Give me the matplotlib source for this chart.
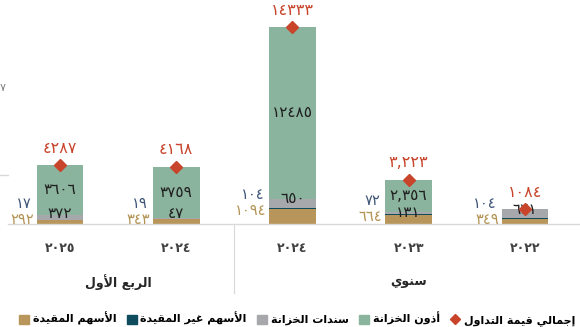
import matplotlib.pyplot as plt
from matplotlib.patches import Patch
from matplotlib.lines import Line2D

# trading value by instrument, ordered 2022 -> Q1 2025 (axis runs right to left)
years = ['٢٠٢٢', '٢٠٢٣', '٢٠٢٤', '٢٠٢٤', '٢٠٢٥']
groups = ['سنوي', 'الربع الأول']
group_sizes = [3, 2]
listed = [349, 664, 1094, 343, 292]
unlisted = [104, 72, 104, 19, 17]
bonds = [631, 131, 650, 47, 372]
bills = [0, 2356, 12485, 3759, 3606]
total = [1084, 3223, 14333, 4168, 4287]
use_commas = [False, True, False, False, False]

series_names = ['الأسهم المقيدة', 'الأسهم غير المقيدة', 'سندات الخزانة', 'أذون الخزانة']
total_name = 'إجمالي قيمة التداول'

C_LISTED = '#B8955A'
C_UNLISTED = '#0E4C5E'
C_BONDS = '#A7A8AB'
C_BILLS = '#8BB49F'
C_TOTAL = '#C8452C'

# matplotlib does no arabic shaping, so pick the presentation forms by hand
FORMS = {'ا': (0xFE8D, 2), 'أ': (0xFE83, 2), 'إ': (0xFE87, 2), 'آ': (0xFE81, 2),
         'ب': (0xFE8F, 4), 'ة': (0xFE93, 2), 'ت': (0xFE95, 4), 'ج': (0xFE9D, 4),
         'خ': (0xFEA5, 4), 'د': (0xFEA9, 2), 'ذ': (0xFEAB, 2), 'ر': (0xFEAD, 2),
         'ز': (0xFEAF, 2), 'س': (0xFEB1, 4), 'ع': (0xFEC9, 4), 'غ': (0xFECD, 4),
         'ق': (0xFED5, 4), 'ل': (0xFEDD, 4), 'م': (0xFEE1, 4), 'ن': (0xFEE5, 4),
         'ه': (0xFEE9, 4), 'و': (0xFEED, 2), 'ي': (0xFEF1, 4)}
LAM_ALEF = {'ا': 0xFEFB, 'أ': 0xFEF7, 'إ': 0xFEF9, 'آ': 0xFEF5}


def shape(text):
    units = []
    i = 0
    while i < len(text):
        c = text[i]
        if c == 'ل' and i + 1 < len(text) and text[i + 1] in LAM_ALEF:
            units.append((LAM_ALEF[text[i + 1]], 2))
            i += 2
        elif c in FORMS:
            units.append(FORMS[c])
            i += 1
        else:
            units.append((c, 0))
            i += 1
    res = []
    for k, (base, n) in enumerate(units):
        if n == 0:
            res.append(base)
            continue
        join_prev = k > 0 and units[k - 1][1] == 4
        join_next = n == 4 and k + 1 < len(units) and units[k + 1][1] > 0
        res.append(chr(base + join_prev + 2 * join_next))
    return ''.join(reversed(res))


AR_DIGITS = str.maketrans('0123456789', '٠١٢٣٤٥٦٧٨٩')


def ar_num(v, commas=False):
    s = f'{v:,}' if commas else str(v)
    return s.translate(AR_DIGITS)


plt.rcParams['font.family'] = ['DejaVu Sans']

W, H = 580, 327
fig = plt.figure(figsize=(W / 100, H / 100), dpi=100)
# axes box in pixels: x 2..583, baseline at y=224, 15000 at y=18
ax = fig.add_axes([2 / W, (H - 224) / H, 581 / W, 206 / H])

x = list(range(len(years)))
bw = 0.4
b1 = listed
b2 = [a + b for a, b in zip(b1, unlisted)]
b3 = [a + b for a, b in zip(b2, bonds)]
ax.bar(x, listed, bw, color=C_LISTED)
ax.bar(x, unlisted, bw, bottom=b1, color=C_UNLISTED)
ax.bar(x, bonds, bw, bottom=b2, color=C_BONDS)
ax.bar(x, bills, bw, bottom=b3, color=C_BILLS)
ax.plot(x, total, 'D', color=C_TOTAL, ms=6, zorder=5)

ax.set_xlim(4.5, -0.5)
ax.set_ylim(0, 15000)
ax.axis('off')
ax.axhline(0, xmin=6 / 581, xmax=1, color='#d9d9d9', lw=1, clip_on=False)

# stray pieces of the neighbouring panel at the left edge
fig.add_artist(Line2D([0, 8 / W], [(H - 175) / H] * 2, color='#d9d9d9', lw=1))
fig.text(0, (H - 88) / H, '٧', ha='left', va='center', fontsize=8,
         color='#7f7f7f')

px = 0.72  # one pixel in points
for i in x:
    c = use_commas[i]
    # listed / unlisted sit to the left of the bar
    ly = max(listed[i] - 100, 330)
    ax.annotate(ar_num(listed[i], c), (i + bw / 2, ly), xytext=(-3 * px, 0),
                textcoords='offset points', ha='right', va='center',
                fontsize=10.5, color='#B39455')
    ax.annotate(ar_num(unlisted[i], c), (i + bw / 2, ly + 1150), xytext=(-5 * px, 0),
                textcoords='offset points', ha='right', va='center',
                fontsize=10.5, color='#3F5679')
    ax.text(i, max(b3[i], 750), ar_num(bonds[i], c), ha='center', va='center',
            fontsize=11, color='#1f1f1f')
    if bills[i]:
        ax.text(i, b3[i] + bills[i] / 2, ar_num(bills[i], c), ha='center',
                va='center', fontsize=11, color='#1f1f1f')
    ax.annotate(ar_num(total[i], c), (i, total[i]), xytext=(0, 17 * px),
                textcoords='offset points', ha='center', va='center',
                fontsize=11.5, color=C_TOTAL)

# category and group labels under the baseline
xt = ax.get_xaxis_transform()
for i, y in enumerate(years):
    ax.text(i, -24 / 206, y, transform=xt, ha='center', va='center',
            fontsize=9, fontweight='bold', color='#404040')
start = 0
for g, n in zip(groups, group_sizes):
    ax.text(start + (n - 1) / 2, -58 / 206, shape(g), transform=xt, ha='center',
            va='center', fontsize=9, fontweight='bold', color='#262626')
    start += n
ax.plot([2.5, 2.5], [0, -69 / 206], transform=xt, clip_on=False,
        color='#d9d9d9', lw=0.8)

handles = [Patch(color=C_LISTED), Patch(color=C_UNLISTED), Patch(color=C_BONDS),
           Patch(color=C_BILLS),
           Line2D([], [], ls='', marker='D', ms=5, color=C_TOTAL)]
labels = [shape(s) for s in series_names] + [shape(total_name)]
fig.legend(handles, labels, ncol=5, loc='center', bbox_to_anchor=(297 / W, 8 / H),
           frameon=False, handlelength=0.9, handleheight=0.9, handletextpad=0.35,
           columnspacing=0.9, borderpad=0.1, prop={'weight': 'bold', 'size': 8})

fig.savefig('out.png', dpi=100)
